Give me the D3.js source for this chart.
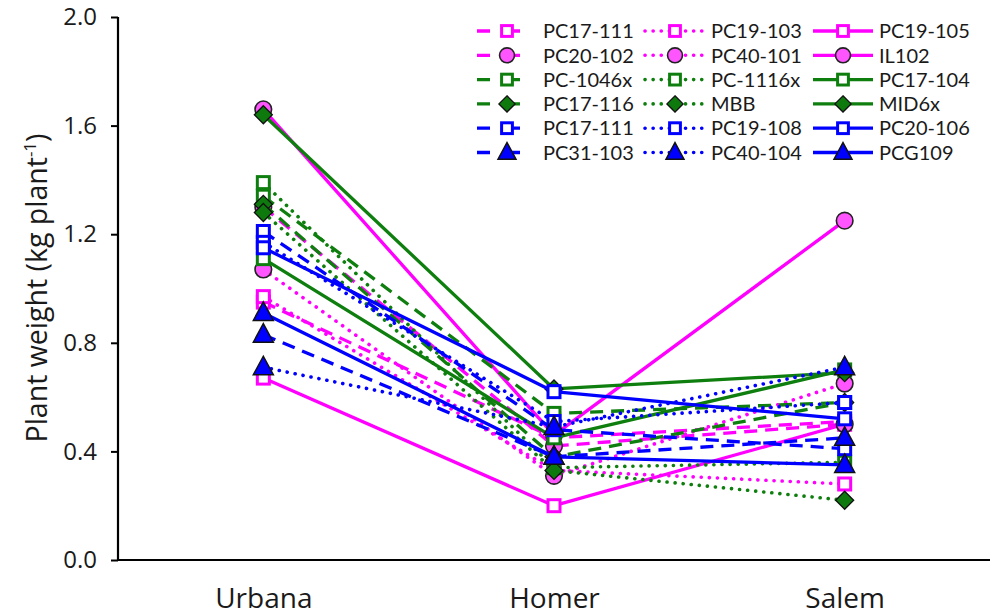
<!DOCTYPE html>
<html><head><meta charset="utf-8">
<script src="https://cdn.jsdelivr.net/npm/d3@7"></script>
<style>html,body{margin:0;padding:0;background:#fff;}svg{display:block;font-family:"Open Sans",sans-serif;}</style>
</head><body>
<svg id="c" width="996" height="615"></svg>
<script>
const categories = ["Urbana", "Homer", "Salem"];
const yTicks = [0.0, 0.4, 0.8, 1.2, 1.6, 2.0];
// legend order (row-major), drawing order
const seriesNames = ["PC17-111","PC19-103","PC19-105","PC20-102","PC40-101","IL102",
  "PC-1046x","PC-1116x","PC17-104","PC17-116","MBB","MID6x",
  "PC17-111","PC19-108","PC20-106","PC31-103","PC40-104","PCG109"];
const seriesColor = ["magenta","magenta","magenta","magenta","magenta","magenta",
  "green","green","green","green","green","green",
  "blue","blue","blue","blue","blue","blue"];
const seriesDash = ["dash","dot","solid","dash","dot","solid",
  "dash","dot","solid","dash","dot","solid",
  "dash","dot","solid","dash","dot","solid"];
const seriesMarker = ["square","square","square","circle","circle","circle",
  "square","square","square","diamond","diamond","diamond",
  "square","square","square","triangle","triangle","triangle"];
const seriesValues = [
  [0.95, 0.45, 0.51],
  [0.97, 0.33, 0.28],
  [0.67, 0.20, 0.50],
  [1.30, 0.42, 0.50],
  [1.07, 0.31, 0.65],
  [1.66, 0.46, 1.25],
  [1.34, 0.54, 0.58],
  [1.39, 0.34, 0.36],
  [1.11, 0.45, 0.70],
  [1.31, 0.38, 0.58],
  [1.28, 0.33, 0.22],
  [1.64, 0.63, 0.69],
  [1.21, 0.48, 0.41],
  [1.17, 0.51, 0.58],
  [1.15, 0.62, 0.52],
  [0.83, 0.38, 0.45],
  [0.71, 0.49, 0.71],
  [0.91, 0.38, 0.35]
];

const colorMap = {magenta:"#ff00ff", green:"#0e7f0e", blue:"#0000ff"};
const circleFill = "#ff55ff", diamondFill = "#0e7a0e", triFill = "#0000ff";
const dashMap = {dash:"13,8", dot:"0.1,8", solid:null};

const svg = d3.select("#c");
const x = d3.scalePoint().domain(categories).range([118, 990]).padding(0.5);
const y = d3.scaleLinear().domain([0, 2]).range([560, 17]);

// axes
const yAxis = d3.axisLeft(y).tickValues(yTicks).tickFormat(d3.format(".1f")).tickSize(7).tickPadding(14);
const gy = svg.append("g").attr("transform","translate(118,0)").call(yAxis);
gy.select(".domain").attr("stroke","#000").attr("stroke-width",2.2).attr("d","M0,17V560");
gy.selectAll(".tick line").attr("stroke","#000").attr("stroke-width",2);
gy.selectAll(".tick text").attr("font-size",24).attr("fill","#1a1a1a").attr("font-family","Open Sans");

const xAxis = d3.axisBottom(x).tickSize(0).tickPadding(28.5);
const gx = svg.append("g").attr("transform","translate(0,560)").call(xAxis);
gx.select(".domain").attr("stroke","#000").attr("stroke-width",2.2).attr("d","M118,0H990");
gx.selectAll(".tick text").attr("font-size",28).attr("fill","#1a1a1a").attr("font-family","Open Sans");

// y title
const yt = svg.append("text").attr("transform","translate(47,288) rotate(-90)")
  .attr("text-anchor","middle").attr("font-size",28.5).attr("fill","#1a1a1a");
yt.append("tspan").text("Plant weight (kg plant");
yt.append("tspan").attr("font-size",17).attr("dy",-11).text("-1");
yt.append("tspan").attr("dy",11).text(")");

function drawMarker(g, type, color, cx, cy, scale) {
  const s = scale || 1;
  if (type === "square") {
    const h = 6*s;
    g.append("rect").attr("x",cx-h).attr("y",cy-h).attr("width",2*h).attr("height",2*h)
      .attr("fill","#fff").attr("stroke",colorMap[color]).attr("stroke-width",3);
  } else if (type === "circle") {
    g.append("circle").attr("cx",cx).attr("cy",cy).attr("r",8.3*s)
      .attr("fill",circleFill).attr("stroke","#222").attr("stroke-width",1.6);
  } else if (type === "diamond") {
    const r = 9*s;
    g.append("path").attr("d",`M${cx},${cy-r}L${cx+r},${cy}L${cx},${cy+r}L${cx-r},${cy}Z`)
      .attr("fill",diamondFill).attr("stroke","#111").attr("stroke-width",1.3);
  } else if (type === "triangle") {
    const w = 10*s, h1 = 11*s, h2 = 7.5*s;
    g.append("path").attr("d",`M${cx},${cy-h1}L${cx+w},${cy+h2}L${cx-w},${cy+h2}Z`)
      .attr("fill",triFill).attr("stroke","#111").attr("stroke-width",1.5).attr("stroke-linejoin","miter");
  }
}

const line = d3.line().x((d,i)=>x(categories[i])).y(d=>y(d));
const plot = svg.append("g");
seriesValues.forEach((vals, si) => {
  const g = plot.append("g");
  const p = g.append("path").attr("d", line(vals)).attr("fill","none")
    .attr("stroke", colorMap[seriesColor[si]]).attr("stroke-width", 3.3)
    .attr("stroke-linejoin","round");
  if (seriesDash[si] === "dot") p.attr("stroke-dasharray", dashMap.dot).attr("stroke-linecap","round").attr("stroke-width",3.6);
  else if (seriesDash[si] === "dash") p.attr("stroke-dasharray", dashMap.dash);
  vals.forEach((v,i) => drawMarker(g, seriesMarker[si], seriesColor[si], x(categories[i]), y(v), 1));
});

// legend
const legCols = [477, 645, 813];
const legRowY0 = 31, legRowStep = 24.3;
const leg = svg.append("g");
seriesNames.forEach((name, si) => {
  const col = si % 3, row = Math.floor(si / 3);
  const lx = legCols[col], ly = legRowY0 + row*legRowStep;
  const g = leg.append("g");
  const p = g.append("line").attr("x1",lx).attr("x2",lx+60).attr("y1",ly).attr("y2",ly)
    .attr("stroke", colorMap[seriesColor[si]]).attr("stroke-width",3.3);
  if (seriesDash[si] === "dot") p.attr("stroke-dasharray", dashMap.dot).attr("stroke-linecap","round").attr("stroke-width",3.6);
  else if (seriesDash[si] === "dash") p.attr("stroke-dasharray", "13,17");
  drawMarker(g, seriesMarker[si], seriesColor[si], lx+30, ly, 0.9);
  g.append("text").attr("x", lx+66).attr("y", ly).attr("dy","0.36em")
    .attr("font-family","Lato").attr("font-size",20).attr("fill","#1a1a1a").text(name);
});
</script>
</body></html>
